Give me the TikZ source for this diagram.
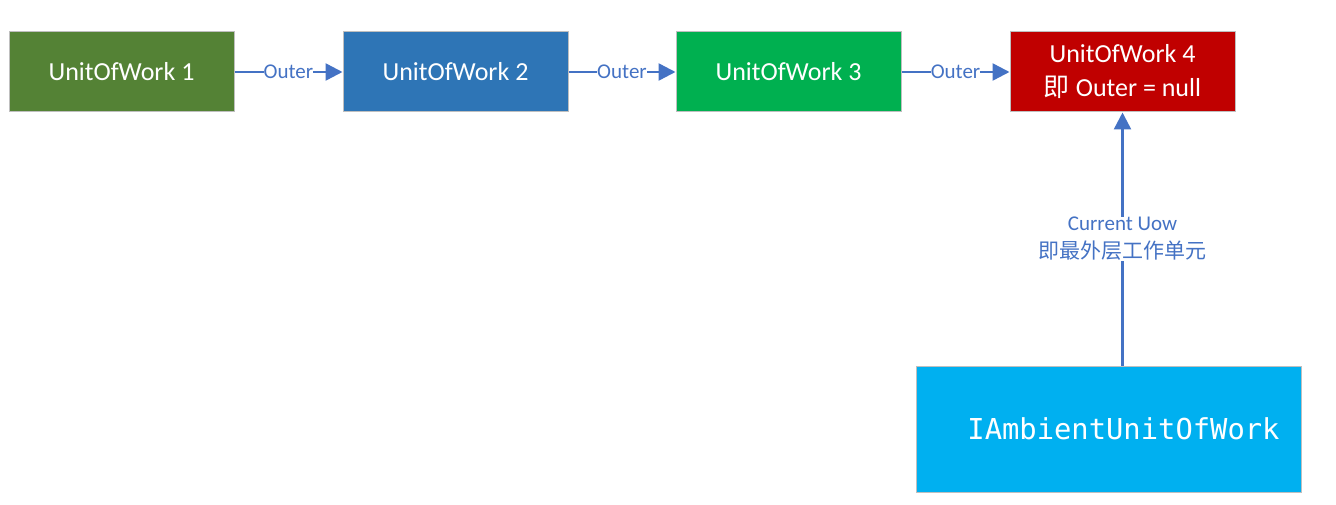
\documentclass[tikz,border=0pt]{standalone}
\usepackage{fontspec}
\setmainfont{Carlito}
\newfontfamily\cjk{Noto Sans CJK SC}
\newfontfamily\codefont{DejaVu Sans Mono}
\usetikzlibrary{arrows.meta}

\definecolor{uowgreen}{HTML}{548235}
\definecolor{uowblue}{HTML}{2E75B6}
\definecolor{uowlime}{HTML}{00B050}
\definecolor{uowred}{HTML}{C00000}
\definecolor{uowcyan}{HTML}{00B0F0}
\definecolor{uowedge}{HTML}{BFBFBF}
\definecolor{linkblue}{HTML}{4472C4}

\tikzset{
	uowbox/.style={draw=uowedge,line width=1pt,inner sep=0pt,align=center,
		minimum width=225pt,minimum height=80pt,text=white,
		font=\fontsize{26}{34}\selectfont},
	link/.style={draw=linkblue,line width=2.5pt,
		-{Triangle[length=17pt,width=17pt]}},
	linklabel/.style={fill=white,inner sep=0pt,text=linkblue,
		font=\fontsize{21}{28}\selectfont}
}

\begin{document}
\begin{tikzpicture}[x=1pt,y=-1pt]

	\useasboundingbox (0,0) rectangle (1336,505);

	% Chain of units of work
	\node[uowbox,fill=uowgreen] (uow1) at (121.5,72) {UnitOfWork 1};
	\node[uowbox,fill=uowblue] (uow2) at (455.5,72) {UnitOfWork 2};
	\node[uowbox,fill=uowlime] (uow3) at (788.5,72) {UnitOfWork 3};
	\node[uowbox,fill=uowred] (uow4) at (1122.5,72)
		{UnitOfWork 4\\{\cjk 即} Outer = null};

	% Ambient holder (text sits a little right of centre)
	\node[uowbox,fill=uowcyan,minimum width=385pt,minimum height=126pt,
		font=\codefont\fontsize{28.8}{34}\selectfont] (ambient) at (1108.5,429)
		{\hspace*{30pt}IAmbientUnitOfWork};

	% Outer links
	\draw[link] (uow1) -- node[linklabel] {Outer} (uow2);
	\draw[link] (uow2) -- node[linklabel] {Outer} (uow3);
	\draw[link] (uow3) -- node[linklabel] {Outer} (uow4);

	% Current link
	\draw[link] (uow4.south |- ambient.north) -- node[linklabel,align=center]
		{Current Uow\\{\cjk\fontsize{21}{28}\selectfont 即最外层工作单元}} (uow4.south);

\end{tikzpicture}
\end{document}
